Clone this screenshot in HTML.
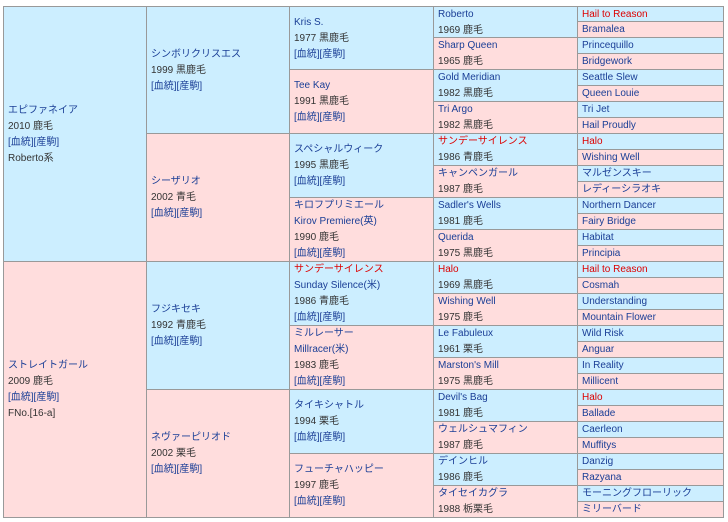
<!DOCTYPE html>
<html><head><meta charset="utf-8"><style>
body{margin:0;background:#fff;width:728px;height:522px;position:relative;overflow:hidden;font-family:"Liberation Sans","Noto Sans CJK JP",sans-serif;font-size:10px;color:#333}
.c{position:absolute;box-sizing:border-box;border-right:1px solid #999;border-bottom:1px solid #999;display:flex;flex-direction:column;justify-content:center;padding-left:4px;padding-top:1px;line-height:16px;white-space:nowrap;overflow:hidden}
.b{background:#cceeff}.p{background:#ffdddd}
.n{color:#1a3e96}.r{color:#dd0000}
</style></head><body>
<div id="o"></div>
<script>
var X=[3,147,290,434,578,724],Y0=6,H=16,out='';
function cell(col,row,span,cls,html){var x=X[col],y=Y0+row*H;out+='<div class="c '+cls+'" style="left:'+x+'px;top:'+y+'px;width:'+(X[col+1]-x)+'px;height:'+(span*H)+'px'+(col==0?';border-left:1px solid #999':'')+(row==0?';border-top:1px solid #999':'')+'">'+html+'</div>';}
var L='<span class="n">[血統][産駒]</span>';
function nm(s){return s.charAt(0)=='!'?'<span class="r">'+s.slice(1)+'</span>':'<span class="n">'+s+'</span>';}
cell(0,0,16,'b','<span class="n">エピファネイア</span><span>2010 鹿毛</span>'+L+'<span>Roberto系</span>');
cell(0,16,16,'p','<span class="n">ストレイトガール</span><span>2009 鹿毛</span>'+L+'<span>FNo.[16-a]</span>');
var c2=[['シンボリクリスエス','1999 黒鹿毛'],['シーザリオ','2002 青毛'],['フジキセキ','1992 青鹿毛'],['ネヴァーピリオド','2002 栗毛']];
c2.forEach(function(a,i){cell(1,i*8,8,i%2?'p':'b',nm(a[0])+'<span>'+a[1]+'</span>'+L);});
var c3=[['Kris S.','','1977 黒鹿毛'],['Tee Kay','','1991 黒鹿毛'],['スペシャルウィーク','','1995 黒鹿毛'],['キロフプリミエール','Kirov Premiere(英)','1990 鹿毛'],['!サンデーサイレンス','Sunday Silence(米)','1986 青鹿毛'],['ミルレーサー','Millracer(米)','1983 鹿毛'],['タイキシャトル','','1994 栗毛'],['フューチャハッピー','','1997 鹿毛']];
c3.forEach(function(a,i){cell(2,i*4,4,i%2?'p':'b',nm(a[0])+(a[1]?'<span class="n">'+a[1]+'</span>':'')+'<span>'+a[2]+'</span>'+L);});
var c4=[['Roberto','1969 鹿毛'],['Sharp Queen','1965 鹿毛'],['Gold Meridian','1982 黒鹿毛'],['Tri Argo','1982 黒鹿毛'],['!サンデーサイレンス','1986 青鹿毛'],['キャンペンガール','1987 鹿毛'],["Sadler's Wells",'1981 鹿毛'],['Querida','1975 黒鹿毛'],['!Halo','1969 黒鹿毛'],['Wishing Well','1975 鹿毛'],['Le Fabuleux','1961 栗毛'],["Marston's Mill",'1975 黒鹿毛'],["Devil's Bag",'1981 鹿毛'],['ウェルシュマフィン','1987 鹿毛'],['デインヒル','1986 鹿毛'],['タイセイカグラ','1988 栃栗毛']];
c4.forEach(function(a,i){cell(3,i*2,2,i%2?'p':'b',nm(a[0])+'<span>'+a[1]+'</span>');});
var c5=['!Hail to Reason','Bramalea','Princequillo','Bridgework','Seattle Slew','Queen Louie','Tri Jet','Hail Proudly','!Halo','Wishing Well','マルゼンスキー','レディーシラオキ','Northern Dancer','Fairy Bridge','Habitat','Principia','!Hail to Reason','Cosmah','Understanding','Mountain Flower','Wild Risk','Anguar','In Reality','Millicent','!Halo','Ballade','Caerleon','Muffitys','Danzig','Razyana','モーニングフローリック','ミリーバード'];
c5.forEach(function(a,i){cell(4,i,1,i%2?'p':'b',nm(a));});
document.getElementById('o').innerHTML=out;
</script></body></html>
